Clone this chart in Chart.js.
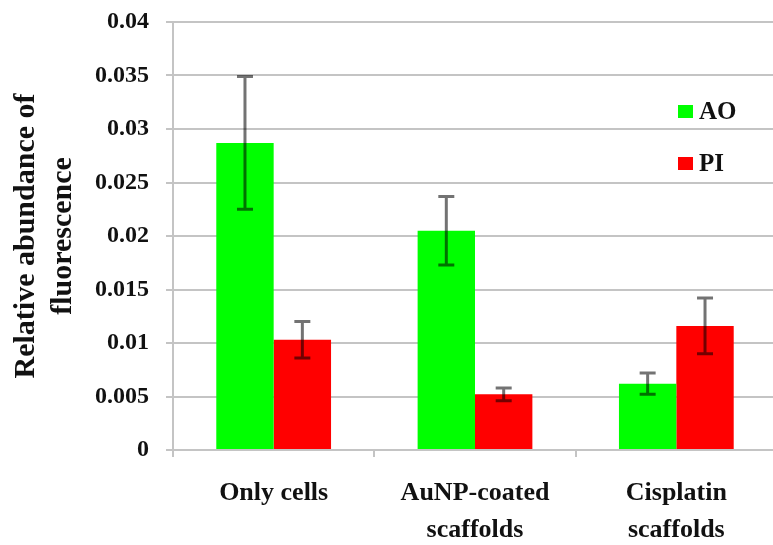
<!DOCTYPE html>
<html>
<head>
<meta charset="utf-8">
<script src="https://cdn.jsdelivr.net/npm/chart.js@4/dist/chart.umd.min.js"></script>
<style>
  html, body { margin: 0; padding: 0; background: #fff; }
  #wrap { width: 773px; height: 545px; overflow: hidden; }
</style>
</head>
<body>
<div id="wrap"><canvas id="chart" width="777" height="545"></canvas></div>
<script>
const categories = ['Only cells', ['AuNP-coated', 'scaffolds'], ['Cisplatin', 'scaffolds']]
const seriesNames = ['AO', 'PI']
const aoValues = [0.0287, 0.0205, 0.0062]
const piValues = [0.0103, 0.0052, 0.0116]
const aoErrors = [0.0062, 0.0032, 0.0010]
const piErrors = [0.0017, 0.0006, 0.0026]
const yTickLabels = ['0', '0.005', '0.01', '0.015', '0.02', '0.025', '0.03', '0.035', '0.04']
const yTitle = ['Relative abundance of', 'fluorescence']

const GREEN = '#00ff00'
const RED = '#ff0000'
const GRID = '#c4c4c4'
const FONT = 'Liberation Serif'

const errorBars = {
    id: 'errorBars',
    afterDatasetsDraw(chart) {
        const { ctx, scales: { y } } = chart
        ctx.save()
        ctx.strokeStyle = 'rgba(0,0,0,0.55)'
        ctx.lineWidth = 3
        chart.data.datasets.forEach((ds, i) => {
            const meta = chart.getDatasetMeta(i)
            meta.data.forEach((bar, j) => {
                const top = y.getPixelForValue(ds.data[j] + ds.errors[j])
                const bottom = y.getPixelForValue(ds.data[j] - ds.errors[j])
                ctx.beginPath()
                ctx.moveTo(bar.x, top)
                ctx.lineTo(bar.x, bottom)
                ctx.moveTo(bar.x - 8, top)
                ctx.lineTo(bar.x + 8, top)
                ctx.moveTo(bar.x - 8, bottom)
                ctx.lineTo(bar.x + 8, bottom)
                ctx.stroke()
            })
        })
        ctx.restore()
    }
}

const sideLegend = {
    id: 'sideLegend',
    afterDraw(chart) {
        const { ctx, chartArea } = chart
        const x = chartArea.right - 99
        ctx.save()
        ctx.font = `bold 25px "${FONT}"`
        ctx.textBaseline = 'middle'
        chart.data.datasets.forEach((ds, i) => {
            const cy = chartArea.top + 89 + i * 52
            ctx.fillStyle = ds.backgroundColor
            ctx.fillRect(x, cy - 6, 15, 13)
            ctx.fillStyle = '#111'
            ctx.fillText(ds.label, x + 21, cy + 2)
        })
        ctx.restore()
    }
}

new Chart(document.getElementById('chart'), {
    type: 'bar',
    data: {
        labels: categories,
        datasets: [
            { label: seriesNames[0], data: aoValues, errors: aoErrors, backgroundColor: GREEN },
            { label: seriesNames[1], data: piValues, errors: piErrors, backgroundColor: RED }
        ]
    },
    options: {
        responsive: false,
        devicePixelRatio: 1,
        animation: false,
        layout: { padding: { top: 22, right: 0, left: 0, bottom: 0 } },
        datasets: { bar: { categoryPercentage: 0.57, barPercentage: 1 } },
        plugins: { legend: { display: false }, tooltip: { enabled: false } },
        scales: {
            x: {
                afterFit: (scale) => { scale.height = 95 },
                grid: { drawOnChartArea: false, drawTicks: true, tickLength: 7, color: GRID, lineWidth: 2 },
                border: { color: GRID, width: 2 },
                ticks: { color: '#111', font: { family: FONT, size: 26, weight: 'bold', lineHeight: 1.42 }, padding: 18, maxRotation: 0 }
            },
            y: {
                min: 0,
                max: 0.04,
                afterFit: (scale) => {
                    scale.width = 173
                    scale.paddingTop = 0
                    scale.paddingBottom = 0
                },
                grid: { color: GRID, lineWidth: 2, tickLength: 7 },
                border: { color: GRID, width: 2 },
                ticks: {
                    stepSize: 0.005,
                    color: '#111',
                    padding: 17,
                    font: { family: FONT, size: 24, weight: 'bold' },
                    callback: (v, i) => yTickLabels[i]
                },
                title: {
                    display: true,
                    text: yTitle,
                    color: '#111',
                    font: { family: FONT, size: 30, weight: 'bold', lineHeight: 1.25 },
                    padding: { top: 7, bottom: 0 }
                }
            }
        }
    },
    plugins: [errorBars, sideLegend]
})
</script>
</body>
</html>
